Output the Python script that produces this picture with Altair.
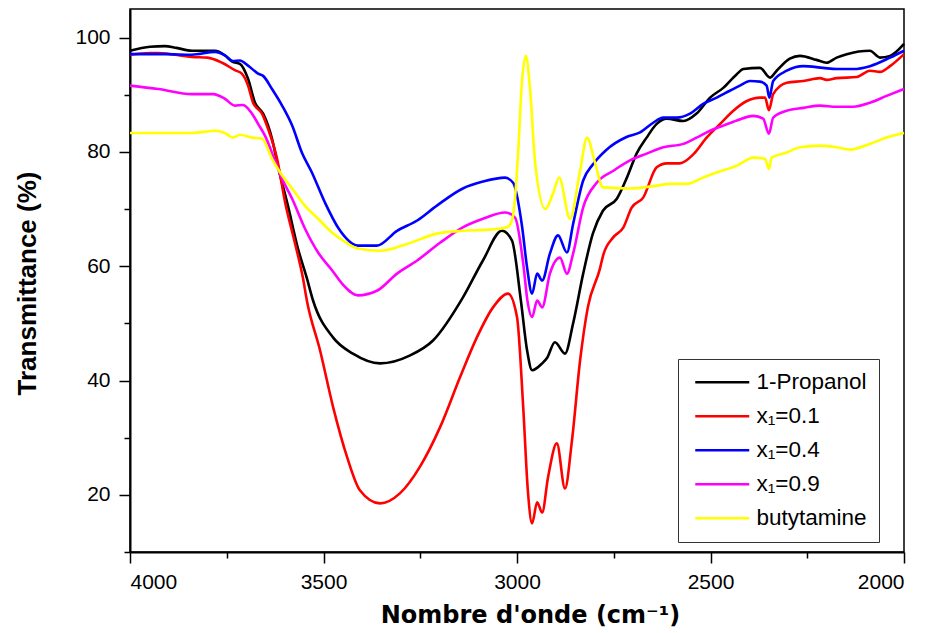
import altair as alt
import pandas as pd

series_names = ["1-Propanol", "x₁=0.1", "x₁=0.4", "x₁=0.9", "butytamine"]
series_colors = ["#000000", "#ff0000", "#0000ff", "#ff00ff", "#ffff00"]

propanol_wn = [4000, 3948, 3910, 3880, 3840, 3780, 3755, 3736, 3716, 3695, 3677, 3656, 3633,
               3618, 3592, 3566, 3543, 3527, 3475, 3424, 3354, 3276, 3217, 3140, 3088, 3039,
               3013, 2990, 2974, 2961, 2935, 2922, 2902, 2876, 2855, 2829, 2804, 2778, 2742,
               2716, 2691, 2665, 2639, 2613, 2570, 2536, 2501, 2467, 2432, 2415, 2372, 2346,
               2329, 2295, 2269, 2226, 2200, 2174, 2148, 2088, 2062, 2036, 2000]
propanol_t = [97.7, 98.4, 98.5, 98.2, 97.7, 97.7, 96.9, 95.8, 95.4, 92.8, 88.6, 86.7, 82.3,
              77.6, 70.6, 63.1, 57.9, 54.0, 47.5, 44.7, 43.0, 44.4, 47.0, 54.5, 61.0, 66.2,
              64.5, 54.0, 45.3, 41.8, 43.0, 44.0, 46.7, 44.7, 50.0, 58.7, 65.7, 69.7, 71.8,
              75.5, 79.7, 82.5, 84.9, 85.8, 85.4, 86.7, 89.5, 91.2, 93.6, 94.5, 94.7, 93.0,
              94.2, 96.3, 96.8, 96.1, 95.6, 96.5, 97.1, 97.7, 96.5, 96.8, 98.9]

x01_wn = [4000, 3948, 3927, 3840, 3800, 3762, 3729, 3711, 3695, 3682, 3659, 3643, 3620, 3599,
          3574, 3553, 3543, 3509, 3475, 3439, 3406, 3354, 3302, 3251, 3199, 3147, 3104, 3062,
          3023, 3000, 2984, 2972, 2961, 2948, 2935, 2920, 2897, 2876, 2858, 2837, 2817, 2786,
          2777, 2752, 2725, 2704, 2674, 2639, 2613, 2579, 2544, 2510, 2475, 2441, 2406, 2372,
          2359, 2349, 2338, 2303, 2260, 2217, 2200, 2174, 2122, 2088, 2062, 2036, 2000]
x01_t = [97.0, 97.3, 97.3, 96.6, 96.5, 95.6, 94.3, 93.7, 91.6, 88.6, 86.7, 84.0, 78.8, 71.1,
         64.1, 57.9, 54.0, 45.3, 35.3, 26.6, 20.8, 18.5, 20.3, 24.9, 31.8, 40.6, 47.5, 52.8,
         55.2, 51.1, 35.4, 20.8, 15.0, 18.7, 16.9, 23.0, 29.0, 21.1, 29.5, 43.5, 52.8, 59.5,
         62.0, 65.0, 66.8, 70.2, 72.0, 77.3, 78.0, 78.0, 79.6, 82.5, 84.9, 87.2, 88.9, 89.5,
         89.5, 87.3, 90.1, 92.1, 92.4, 92.9, 92.6, 92.9, 93.1, 94.2, 94.0, 95.0, 97.1]

x04_wn = [4000, 3910, 3840, 3780, 3755, 3734, 3716, 3695, 3669, 3656, 3633, 3607, 3581, 3556,
          3530, 3496, 3460, 3411, 3362, 3310, 3258, 3207, 3140, 3088, 3031, 3010, 2987, 2974,
          2961, 2948, 2935, 2915, 2894, 2871, 2855, 2829, 2804, 2770, 2717, 2682, 2648, 2622,
          2587, 2553, 2519, 2484, 2450, 2424, 2398, 2372, 2355, 2348, 2338, 2303, 2260, 2209,
          2174, 2131, 2088, 2036, 2000]
x04_t = [97.1, 97.1, 97.0, 97.5, 96.9, 95.9, 96.0, 95.1, 93.7, 93.3, 91.0, 88.1, 84.6, 79.9,
         76.4, 71.1, 66.5, 63.6, 63.6, 66.2, 68.0, 70.6, 73.6, 74.8, 75.5, 74.6, 67.0, 59.8,
         55.2, 58.7, 57.5, 62.2, 65.4, 62.4, 67.4, 75.0, 77.8, 80.3, 82.6, 83.4, 85.1, 86.0,
         86.0, 86.7, 88.4, 89.5, 90.7, 91.6, 92.4, 92.3, 91.6, 89.5, 92.4, 94.2, 95.0, 94.7,
         94.5, 94.5, 95.0, 96.5, 97.7]

x09_wn = [4000, 3927, 3840, 3785, 3755, 3729, 3708, 3685, 3669, 3651, 3630, 3607, 3581, 3548,
          3514, 3478, 3450, 3411, 3362, 3310, 3258, 3199, 3140, 3088, 3031, 3005, 2984, 2972,
          2961, 2948, 2935, 2915, 2889, 2871, 2855, 2829, 2794, 2751, 2708, 2665, 2622, 2570,
          2536, 2501, 2467, 2432, 2389, 2364, 2349, 2338, 2303, 2260, 2217, 2174, 2131, 2088,
          2045, 2000]
x09_t = [91.6, 91.0, 90.1, 90.1, 89.3, 88.1, 88.2, 86.7, 84.9, 82.8, 79.3, 75.3, 71.8, 66.6,
         62.4, 59.3, 56.8, 54.9, 55.7, 58.7, 61.0, 64.1, 66.8, 68.3, 69.4, 68.5, 60.5, 53.5,
         51.1, 54.0, 52.8, 58.7, 61.5, 58.7, 62.2, 70.3, 74.6, 76.7, 78.5, 79.7, 80.8, 81.4,
         82.5, 83.7, 84.6, 85.5, 86.3, 85.8, 83.2, 86.0, 87.2, 87.7, 88.1, 87.9, 87.9, 88.6,
         89.8, 91.0]

buty_wn = [4000, 3927, 3840, 3780, 3755, 3734, 3716, 3685, 3659, 3633, 3612, 3581, 3548, 3514,
           3478, 3450, 3411, 3354, 3284, 3207, 3140, 3070, 3026, 3013, 3005, 2997, 2987, 2977,
           2966, 2953, 2927, 2907, 2891, 2863, 2837, 2819, 2798, 2778, 2708, 2639, 2605, 2562,
           2519, 2484, 2432, 2389, 2359, 2349, 2342, 2303, 2269, 2217, 2174, 2140, 2088, 2045,
           2000]
buty_t = [83.3, 83.3, 83.3, 83.7, 83.3, 82.5, 83.0, 82.5, 82.3, 78.8, 76.4, 73.6, 70.6, 68.3,
          65.9, 64.5, 63.1, 62.7, 63.9, 65.7, 66.2, 66.4, 66.8, 68.0, 72.0, 80.0, 92.4, 96.8,
          90.7, 78.0, 70.0, 72.7, 75.5, 68.3, 76.7, 82.5, 78.0, 73.8, 73.6, 74.1, 74.4, 74.4,
          75.5, 76.4, 77.6, 79.0, 78.8, 77.0, 79.0, 79.9, 80.8, 81.1, 80.8, 80.4, 81.4, 82.5,
          83.3]

x_major = [4000, 3500, 3000, 2500, 2000]
x_minor = [3750, 3250, 2750, 2250]
y_major = [20, 40, 60, 80, 100]
y_minor = [10, 30, 50, 70, 90]

rows = []
for name, wns, ts in zip(series_names,
                         [propanol_wn, x01_wn, x04_wn, x09_wn, buty_wn],
                         [propanol_t, x01_t, x04_t, x09_t, buty_t]):
    for w, t in zip(wns, ts):
        rows.append({"series": name, "wn": w, "T": t})
df = pd.DataFrame(rows)

xscale = alt.Scale(domain=[2000, 4000], reverse=True, nice=False, zero=False)
yscale = alt.Scale(domain=[10, 105], nice=False, zero=False)

lines = alt.Chart(df).mark_line(strokeWidth=2.6, interpolate="monotone").encode(
    x=alt.X("wn:Q", scale=xscale,
            axis=alt.Axis(values=x_major, format="d", tickSize=11, labelPadding=8, grid=False,
                          orient="bottom",
                          title="Nombre d'onde (cm⁻¹)", titleFont="DejaVu Sans",
                          titleFontSize=24, titleFontWeight="bold", titleColor="black",
                          titleX=400, titleY=70, titleBaseline="alphabetic",
                          titleAlign="center")),
    y=alt.Y("T:Q", scale=yscale,
            axis=alt.Axis(values=y_major, format="d", tickSize=11, labelPadding=9, grid=False,
                          orient="left",
                          title="Transmittance (%)", titleFont="Liberation Sans",
                          titleFontSize=26, titleFontWeight="bold", titleColor="black",
                          titleX=-95, titleY=274, titleAngle=270,
                          titleBaseline="alphabetic", titleAlign="center")),
    color=alt.Color("series:N",
                    scale=alt.Scale(domain=series_names, range=series_colors),
                    legend=alt.Legend(title=None, orient="none", legendX=548, legendY=350,
                                      direction="vertical", columns=1,
                                      padding=12, strokeColor="#333333", fillColor="white",
                                      symbolType="M-3,0H3", symbolSize=324,
                                      symbolOffset=21, symbolStrokeWidth=2.6,
                                      labelFont="Liberation Sans", labelFontSize=22.5,
                                      labelColor="black", labelOffset=23,
                                      labelLimit=160, rowPadding=11)),
)

minor = alt.Chart(df).mark_line(opacity=0).encode(
    x=alt.X("wn:Q", scale=xscale,
            axis=alt.Axis(values=x_minor, tickSize=6, labels=False, domain=False,
                          grid=False, title=None, orient="bottom")),
    y=alt.Y("T:Q", scale=yscale,
            axis=alt.Axis(values=y_minor, tickSize=6, labels=False, domain=False,
                          grid=False, title=None, orient="left")),
    detail="series:N",
)

chart = alt.layer(lines, minor).resolve_axis(x="independent", y="independent").properties(
    width=774, height=543,
    autosize=alt.AutoSizeParams(type="none"),
    padding={"left": 130, "top": 9, "right": 34, "bottom": 81},
    background="white",
).configure_axis(
    labelFont="Liberation Sans", labelFontSize=21, labelColor="black",
    tickColor="black", tickWidth=1.5, domainColor="black", domainWidth=2,
).configure_view(stroke="black", strokeWidth=1.5)

chart.save("out.html", embed_options={"renderer": "svg", "actions": False})
